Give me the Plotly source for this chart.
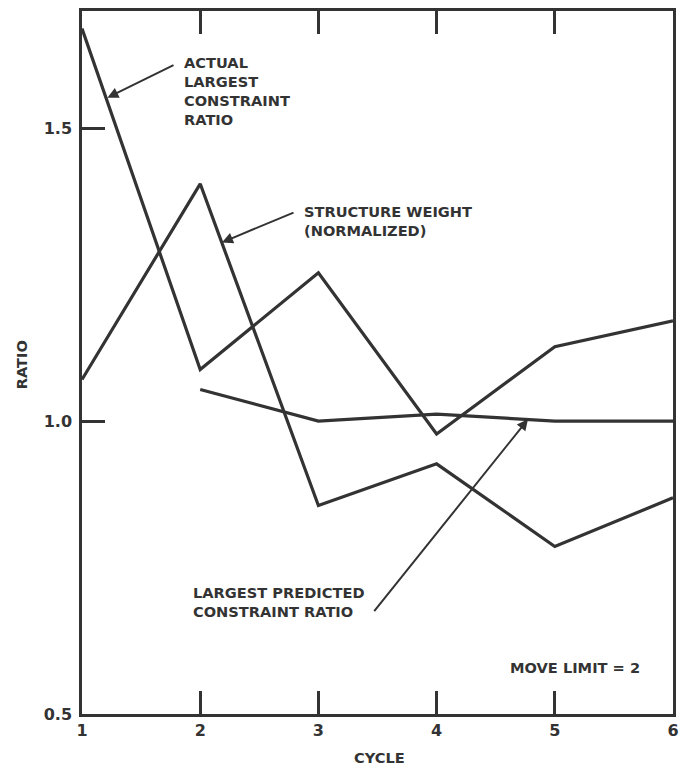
import plotly.graph_objects as go

# Design cycles
cycles = [1, 2, 3, 4, 5, 6]

# Ratio series per cycle
actual_largest = [1.67, 1.088, 1.253, 0.978, 1.127, 1.171]
structure_weight = [1.071, 1.405, 0.856, 0.927, 0.786, 0.869]
predicted_cycles = [2, 3, 4, 5, 6]
predicted_largest = [1.054, 1.0, 1.012, 1.0, 1.0]

y_ticks = [0.5, 1.0, 1.5]
y_tick_text = ["0.5", "1.0", "1.5"]

INK = "#333333"
FONT = "DejaVu Sans"
LW = 3.2

fig = go.Figure()
for xs, ys, name in [
    (cycles, actual_largest, "Actual largest constraint ratio"),
    (cycles, structure_weight, "Structure weight (normalized)"),
    (predicted_cycles, predicted_largest, "Largest predicted constraint ratio"),
]:
    fig.add_trace(go.Scatter(
        x=xs, y=ys, mode="lines", name=name,
        line=dict(color=INK, width=LW), cliponaxis=False,
        hoverinfo="skip",
    ))

label_font = dict(family=FONT, size=14.6, color=INK, weight="bold")

# Callout arrows (tail -> head, data coordinates)
arrows = [
    ((1.787, 1.609), (1.215, 1.552)),
    ((2.802, 1.357), (2.184, 1.305)),
    ((3.462, 0.673), (4.773, 1.003)),
]
for (tx, ty), (hx, hy) in arrows:
    fig.add_annotation(
        x=hx, y=hy, ax=tx, ay=ty, xref="x", yref="y", axref="x", ayref="y",
        text="", showarrow=True, arrowhead=2, arrowsize=1.1, arrowwidth=2,
        arrowcolor=INK, standoff=0, startstandoff=0,
    )

# Callout texts (left edge, vertical centre, text)
callouts = [
    (1.854, 1.564, "ACTUAL<br>LARGEST<br>CONSTRAINT<br>RATIO"),
    (2.870, 1.341, "STRUCTURE WEIGHT<br>(NORMALIZED)"),
    (1.931, 0.691, "LARGEST PREDICTED<br>CONSTRAINT RATIO"),
    (4.612, 0.580, "MOVE LIMIT = 2"),
]
for x, y, t in callouts:
    fig.add_annotation(
        x=x, y=y, xref="x", yref="y", text=t, showarrow=False,
        xanchor="left", yanchor="middle", align="left", font=label_font,
        borderpad=0,
    )

# Axis titles
fig.add_annotation(
    x=-0.102, y=0.497, xref="paper", yref="paper", text="RATIO",
    showarrow=False, textangle=-90, xanchor="center", yanchor="middle",
    font=label_font,
)
fig.add_annotation(
    x=0.503, y=-0.062, xref="paper", yref="paper", text="CYCLE",
    showarrow=False, xanchor="center", yanchor="middle", font=label_font,
)

axis_common = dict(
    showgrid=False, zeroline=False, showline=True, linecolor=INK,
    linewidth=2.5, ticks="inside", ticklen=23, tickwidth=2.5,
    tickcolor=INK,
    tickfont=dict(family=FONT, size=16, color=INK, weight="bold"),
)

fig.update_xaxes(
    range=[1, 6], tickvals=cycles, ticktext=[str(c) for c in cycles],
    mirror="ticks", **axis_common,
)
fig.update_yaxes(
    range=[0.5, 1.70], tickvals=y_ticks, ticktext=y_tick_text,
    mirror=True, ticklabelstandoff=4, **axis_common,
)

fig.update_layout(
    width=689, height=770,
    margin=dict(l=82, r=16, t=8, b=56),
    paper_bgcolor="white", plot_bgcolor="white",
    showlegend=False,
    font=dict(family=FONT, color=INK),
)

fig.write_html("out.html")
